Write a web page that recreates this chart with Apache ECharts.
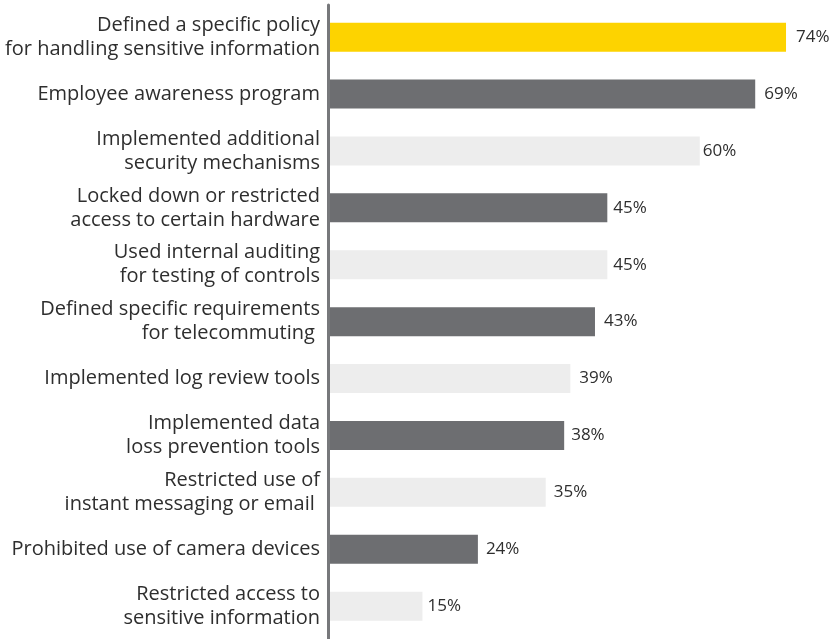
<!DOCTYPE html>
<html>
<head>
<meta charset="utf-8">
<script src="https://cdn.jsdelivr.net/npm/echarts@6/dist/echarts.min.js"></script>
<style>
  html, body { margin: 0; padding: 0; background: #fff; }
  #chart { width: 830px; height: 639px; }
</style>
</head>
<body>
<div id="chart"></div>
<script>
// Measures taken, top to bottom
const categories = [
  'Defined a specific policy\nfor handling sensitive information',
  'Employee awareness program',
  'Implemented additional\nsecurity mechanisms',
  'Locked down or restricted\naccess to certain hardware',
  'Used internal auditing\nfor testing of controls',
  'Defined specific requirements\nfor telecommuting ',
  'Implemented log review tools',
  'Implemented data\nloss prevention tools',
  'Restricted use of\ninstant messaging or email ',
  'Prohibited use of camera devices',
  'Restricted access to\nsensitive information'
];
const values = [74, 69, 60, 45, 45, 43, 39, 38, 35, 24, 15];
// Bar fill per row: highlight first, then alternate dark / light grey
const barColors = ['#FDD300', '#6D6E71', '#EDEDED', '#6D6E71', '#EDEDED', '#6D6E71',
                   '#EDEDED', '#6D6E71', '#EDEDED', '#6D6E71', '#EDEDED'];
// Space between each bar end and its value label
const labelGaps = [10, 9, 3, 6, 6, 9, 9, 7, 8, 8, 5];

const chart = echarts.init(document.getElementById('chart'));
const font = '"Open Sans", sans-serif';

chart.setOption({
  animation: false,
  backgroundColor: '#fff',
  grid: [
    { left: 330, right: 7, top: 8.7, bottom: 4.4 },
    // full-height grid carrying only the vertical baseline
    { left: 328.5, right: 7, top: 5, bottom: 0 }
  ],
  xAxis: [
    { gridIndex: 0, type: 'value', min: 0, max: 80, show: false },
    { gridIndex: 1, type: 'value', min: 0, max: 1, show: false }
  ],
  yAxis: [
    {
      gridIndex: 0,
      type: 'category',
      data: categories,
      inverse: true,
      axisLine: { show: false },
      axisTick: { show: false },
      axisLabel: {
        margin: 10,
        fontFamily: font,
        fontSize: 20,
        lineHeight: 24,
        color: '#2e2e2e',
        align: 'right'
      }
    },
    {
      gridIndex: 1,
      type: 'value',
      min: 0, max: 1,
      axisLine: { show: true, lineStyle: { color: '#77787B', width: 3 } },
      axisTick: { show: false },
      axisLabel: { show: false },
      splitLine: { show: false }
    }
  ],
  series: [{
    type: 'bar',
    xAxisIndex: 0,
    yAxisIndex: 0,
    data: values.map((v, i) => ({
      value: v,
      itemStyle: { color: barColors[i] },
      label: { distance: labelGaps[i] }
    })),
    barWidth: 29,
    label: {
      show: true,
      position: 'right',
      formatter: '{c}%',
      fontFamily: font,
      fontSize: 17,
      color: '#2e2e2e'
    }
  }]
});
</script>
</body>
</html>
